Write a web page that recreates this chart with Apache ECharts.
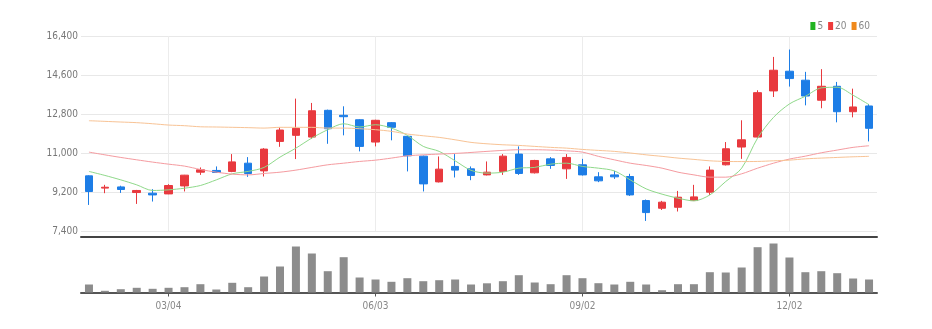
<!DOCTYPE html>
<html><head><meta charset="utf-8">
<script src="https://cdn.jsdelivr.net/npm/echarts@6/dist/echarts.min.js"></script>
<style>html,body{margin:0;padding:0;background:#fff}#c{width:932px;height:329px}</style>
</head><body><div id="c"></div>
<script>
const dates = ['01/28','02/04','02/11','02/18','02/25','03/04','03/11','03/18','03/25','04/01','04/08','04/15','04/22','04/29','05/06','05/13','05/20','05/27','06/03','06/10','06/17','06/24','07/01','07/08','07/15','07/22','07/29','08/05','08/12','08/19','08/26','09/02','09/09','09/16','09/23','09/30','10/07','10/14','10/21','10/28','11/04','11/11','11/18','11/25','12/02','12/09','12/16','12/23','12/30','01/06'];
const labelIdx = [5, 18, 31, 44];
const yTicks = [7400, 9200, 11000, 12800, 14600, 16400];
const openP  = [9945,9380,9435,9175,9145,9112,9480,10115,10195,10150,10530,10175,11535,11815,11735,12970,12740,12535,11505,12400,11770,10855,9667,10380,10270,9990,10150,10950,10085,10730,10270,10455,9900,9990,9915,8805,8450,8495,8805,9190,10455,11275,11735,13865,14775,14360,13435,14080,12905,13170];
const closeP = [9223,9420,9315,9270,9065,9500,9977,10225,10100,10590,10055,11180,12060,12140,12950,12120,12675,11305,12510,12185,10870,9575,10255,10210,9965,10115,10855,10055,10655,10425,10795,9990,9715,9900,9065,8250,8730,8960,8975,10210,11195,11610,13785,14820,14435,13630,14080,12905,13125,12140];
const lowP   = [8603,9145,9158,8650,8760,9100,9225,9990,10085,10115,9900,9915,11285,10720,11655,11425,11815,11075,11305,11585,10150,9225,9640,9870,9745,9965,9990,9990,10055,10270,9805,9960,9655,9805,9020,7865,8370,8300,8790,9065,10425,10730,11690,13585,14065,13200,13065,12415,12645,11535];
const highP  = [9970,9530,9490,9297,9330,9560,9990,10333,10380,10950,10810,11225,12185,13510,13310,13000,13155,12560,12535,12430,11795,10880,10840,10950,10380,10610,10950,11305,10685,10810,10950,10730,10115,10175,10040,8853,8790,9250,9530,10380,11505,12510,13895,15435,15775,14745,14870,14280,13970,13260];
const ma5  = [10150,9965,9760,9530,9270,9300,9375,9500,9760,10040,10150,10335,10810,11225,11690,12075,12350,12200,12305,12150,11815,11305,11075,10640,10200,10070,10115,10300,10335,10485,10530,10380,10300,10175,9760,9345,9100,8915,8790,9065,9685,10300,11690,12645,13265,13620,14005,14035,13665,13230];
const ma20 = [11040,10915,10795,10685,10580,10485,10395,10240,10115,10025,9990,10055,10115,10210,10335,10455,10530,10610,10670,10765,10870,10915,10950,10980,11025,11075,11120,11150,11150,11135,11100,11040,10845,10685,10530,10425,10300,10115,9990,9885,9885,10040,10300,10530,10720,10855,11010,11135,11260,11335];
const ma60 = [12490,12460,12430,12400,12350,12290,12260,12210,12200,12185,12170,12150,12185,12185,12185,12150,12150,12120,12075,12000,11875,11795,11720,11610,11490,11425,11380,11350,11305,11260,11225,11165,11120,11075,11000,10915,10845,10765,10705,10640,10610,10605,10610,10640,10670,10730,10765,10795,10825,10845];
const volume = [80000,17000,33000,47000,37000,47000,53000,83000,30000,97000,53000,160000,260000,460000,390000,213000,353000,150000,130000,107000,143000,113000,123000,130000,80000,92000,113000,173000,100000,83000,173000,143000,93000,80000,107000,80000,23000,83000,83000,203000,200000,250000,453000,490000,350000,203000,213000,193000,140000,130000];

const UP = '#e8393e', DOWN = '#1d7de6';
const FONT = "'Liberation Sans Narrow','DejaVu Sans Condensed','Roboto Condensed','Liberation Sans',sans-serif";
const showAt = (i) => labelIdx.indexOf(i) >= 0;
const candle = dates.map((d, i) => [openP[i], closeP[i], lowP[i], highP[i]]);

const chart = echarts.init(document.getElementById('c'), null, {renderer: 'canvas'});
chart.setOption({
  animation: false,
  backgroundColor: '#fff',
  legend: {
    right: 57, top: 16, itemWidth: 5, itemHeight: 8, itemGap: 5, icon: 'rect',
    textStyle: {color: '#888', fontSize: 10, fontFamily: FONT, padding: [0,0,0,-3]},
    data: [
      {name: '5', itemStyle: {color: '#22b422'}},
      {name: '20', itemStyle: {color: '#ee3b3b'}},
      {name: '60', itemStyle: {color: '#f0891c'}}
    ]
  },
  grid: [
    {left: 81, right: 55, top: 36, height: 195},
    {left: 81, right: 55, top: 242.5, height: 50}
  ],
  xAxis: [
    {type: 'category', gridIndex: 0, data: dates, boundaryGap: true, offset: 6,
      axisLine: {lineStyle: {color: '#444', width: 2}},
      axisTick: {show: false}, axisLabel: {show: false},
      splitLine: {show: true, interval: (i) => showAt(i), alignWithLabel: true, lineStyle: {color: '#ececec', width: 1}}},
    {type: 'category', gridIndex: 1, data: dates, boundaryGap: true,
      axisLine: {lineStyle: {color: '#555', width: 2}},
      axisTick: {show: true, alignWithLabel: true, interval: (i) => showAt(i), length: 4, lineStyle: {color: '#555'}},
      axisLabel: {interval: (i) => showAt(i), color: '#888', fontSize: 10, fontFamily: FONT, margin: 9},
      splitLine: {show: false}}
  ],
  yAxis: [
    {type: 'value', gridIndex: 0, min: 7400, max: 16400, interval: 1800, scale: true,
      axisLine: {show: false}, axisTick: {show: false},
      axisLabel: {color: '#777', fontSize: 10, fontFamily: FONT, margin: 3,
        formatter: (v) => v.toLocaleString('en-US')},
      splitLine: {lineStyle: {color: '#e8e8e8'}}},
    {type: 'value', gridIndex: 1, min: 0, max: 500000,
      axisLine: {show: false}, axisTick: {show: false}, axisLabel: {show: false}, splitLine: {show: false}}
  ],
  series: [
    {name: 'price', type: 'candlestick', xAxisIndex: 0, yAxisIndex: 0, data: candle, barWidth: 8,
      itemStyle: {color: UP, color0: DOWN, borderColor: UP, borderColor0: DOWN, borderWidth: 1}},
    {name: '5', type: 'line', xAxisIndex: 0, yAxisIndex: 0, data: ma5, smooth: 0.3, showSymbol: false,
      itemStyle: {color: '#22b422'}, lineStyle: {color: '#8fd98a', width: 1}},
    {name: '20', type: 'line', xAxisIndex: 0, yAxisIndex: 0, data: ma20, smooth: 0.3, showSymbol: false,
      itemStyle: {color: '#ee3b3b'}, lineStyle: {color: '#f59ba0', width: 1}},
    {name: '60', type: 'line', xAxisIndex: 0, yAxisIndex: 0, data: ma60, smooth: 0.3, showSymbol: false,
      itemStyle: {color: '#f0891c'}, lineStyle: {color: '#f8c395', width: 1}},
    {name: 'volume', type: 'bar', xAxisIndex: 1, yAxisIndex: 1, data: volume, barWidth: 8,
      itemStyle: {color: '#8c8c8c'}}
  ]
});
</script></body></html>
